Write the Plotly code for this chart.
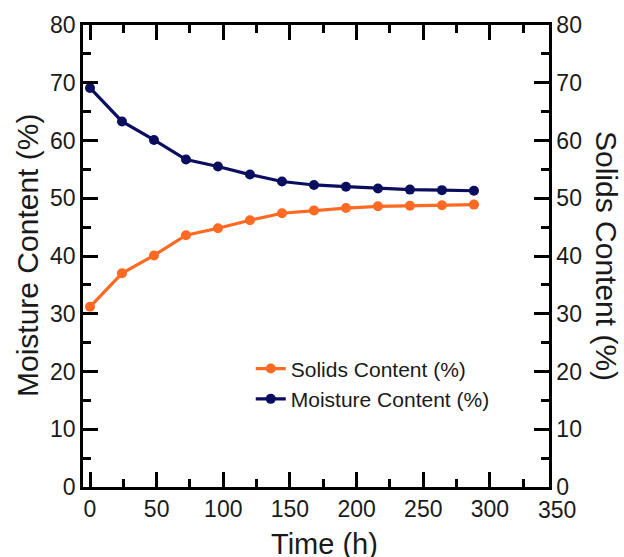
import plotly.graph_objects as go

time_h = [0, 24, 48, 72, 96, 120, 144, 168, 192, 216, 240, 264, 288]
solids = [31.2, 37.0, 40.1, 43.6, 44.8, 46.2, 47.4, 47.9, 48.3, 48.6, 48.7, 48.8, 48.9]
moisture = [69.1, 63.3, 60.1, 56.7, 55.5, 54.1, 52.9, 52.3, 52.0, 51.7, 51.5, 51.4, 51.3]

x_range = [-5.25, 344.3]
y_range = [0, 80]
extra_x_label = 350

ORANGE = "#FF6A22"
NAVY = "#0B0E5E"
FONT = "Liberation Sans, Arial, sans-serif"
INK = "#1a1a1a"

fig = go.Figure()
fig.add_trace(go.Scatter(
    x=time_h, y=solids, name="Solids Content (%)", mode="lines+markers",
    line=dict(color=ORANGE, width=3.2), marker=dict(color=ORANGE, size=10),
    yaxis="y2"))
fig.add_trace(go.Scatter(
    x=time_h, y=moisture, name="Moisture Content (%)", mode="lines+markers",
    line=dict(color=NAVY, width=3.2), marker=dict(color=NAVY, size=10)))

axis_common = dict(showline=True, linecolor="black", linewidth=2.5,
                   ticks="inside", tickcolor="black", tickwidth=2.5, ticklen=15,
                   showgrid=False, zeroline=False,
                   tickfont=dict(family=FONT, size=23, color=INK))

fig.update_layout(
    width=624, height=557,
    margin=dict(l=83, r=75, t=23, b=70),
    paper_bgcolor="white", plot_bgcolor="white",
    showlegend=True,
    legend=dict(x=0.36, y=0.30, xanchor="left", yanchor="top",
                bgcolor="rgba(0,0,0,0)",
                font=dict(family=FONT, size=21, color=INK),
                tracegroupgap=0),
    xaxis=dict(range=x_range, dtick=50, tick0=0, mirror="ticks",
               minor=dict(dtick=25, tick0=0, ticks="inside", ticklen=8,
                          tickwidth=2.5, tickcolor="black"),
               **axis_common),
    yaxis=dict(range=y_range, dtick=10, tick0=0,
               minor=dict(dtick=5, tick0=0, ticks="inside", ticklen=8,
                          tickwidth=2.5, tickcolor="black"),
               **axis_common),
    yaxis2=dict(range=y_range, dtick=10, tick0=0, overlaying="y", side="right",
                anchor="x",
                minor=dict(dtick=5, tick0=0, ticks="inside", ticklen=8,
                           tickwidth=2.5, tickcolor="black"),
                **axis_common),
)

frac_350 = (extra_x_label - x_range[0]) / (x_range[1] - x_range[0])
annos = [
    dict(text="350", xref="paper", yref="paper", x=frac_350, y=0,
         xanchor="center", yanchor="top", yshift=-8, showarrow=False,
         font=dict(family=FONT, size=23, color=INK)),
    dict(text="Time (h)", xref="paper", yref="paper", x=0.519, y=0,
         xanchor="center", yanchor="middle", yshift=-57, showarrow=False,
         font=dict(family=FONT, size=29, color=INK)),
    dict(text="Moisture Content (%)", xref="paper", yref="paper", x=0, y=0.5,
         xanchor="center", yanchor="middle", xshift=-56, textangle=-90,
         showarrow=False, font=dict(family=FONT, size=30, color=INK)),
    dict(text="Solids Content (%)", xref="paper", yref="paper", x=1, y=0.5,
         xanchor="center", yanchor="middle", xshift=58, textangle=90,
         showarrow=False, font=dict(family=FONT, size=30, color=INK)),
]
fig.update_layout(annotations=annos)

fig.write_html(
    "out.html",
    config={"displayModeBar": False},
    post_script="document.body.style.margin='0px';document.body.style.overflow='hidden';",
)
